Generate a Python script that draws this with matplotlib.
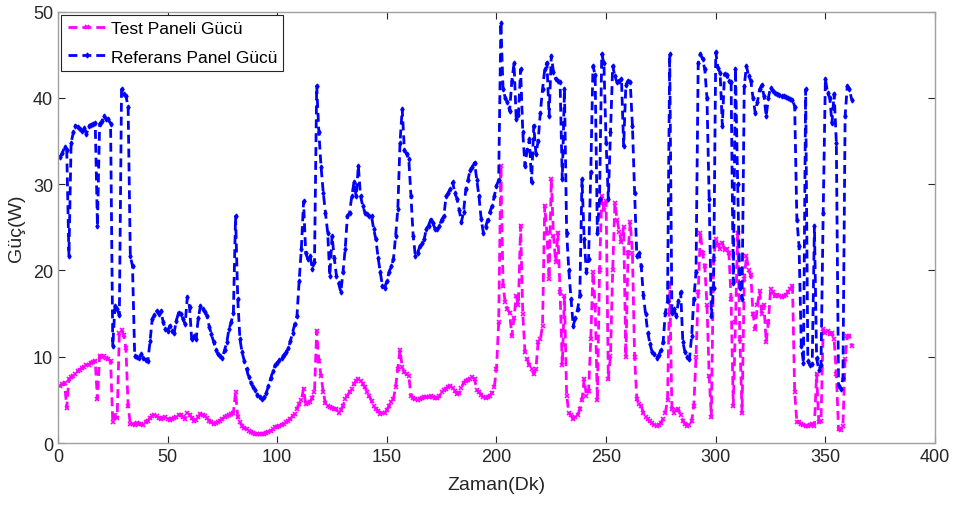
import numpy as np
import matplotlib
matplotlib.use("Agg")
import matplotlib.pyplot as plt

# zaman ekseni (dakika)
zaman = np.arange(1, 363)

# Referans panel gucu (W)
referans = [
    33.2, 33.6, 34.3, 34.0, 21.7, 34.8, 36.0, 36.8, 36.6, 36.4,
    36.2, 36.5, 35.8, 36.7, 36.9, 37.0, 37.1, 25.2, 37.0, 37.3,
    37.9, 37.6, 37.5, 37.0, 11.2, 15.9, 15.5, 14.8, 41.0, 40.5,
    40.2, 39.0, 21.7, 20.5, 10.1, 10.0, 9.8, 10.3, 9.9, 9.6,
    9.5, 11.8, 14.4, 14.8, 15.3, 15.0, 15.3, 14.0, 13.2, 13.0,
    13.6, 13.0, 12.8, 14.2, 15.1, 15.0, 14.4, 13.8, 16.9, 15.8,
    12.0, 12.4, 12.0, 14.5, 15.9, 15.5, 15.2, 14.7, 13.5, 12.6,
    11.7, 10.8, 10.3, 10.1, 9.9, 10.8, 11.7, 13.2, 14.0, 15.1,
    26.3, 16.7, 12.0, 10.5, 9.5, 8.6, 7.6, 7.0, 6.5, 6.1,
    5.6, 5.3, 5.1, 5.3, 5.8, 6.6, 7.5, 8.3, 9.0, 9.3,
    9.6, 9.9, 10.2, 10.5, 11.0, 11.8, 12.8, 13.8, 14.7, 18.8,
    22.5, 28.0, 22.0, 21.3, 21.7, 20.2, 21.0, 41.4, 36.0, 32.0,
    29.0, 26.7, 24.4, 19.4, 24.0, 21.5, 19.4, 18.5, 17.5, 19.8,
    22.5, 26.3, 26.7, 28.6, 30.2, 28.6, 32.1, 28.6, 27.5, 26.7,
    26.5, 26.3, 26.3, 24.8, 23.6, 21.5, 19.8, 18.2, 18.0, 18.8,
    19.8, 20.5, 21.3, 24.0, 27.1, 34.8, 38.7, 34.0, 33.5, 32.9,
    28.6, 24.0, 21.7, 22.0, 22.8, 23.2, 23.6, 24.8, 25.2, 25.9,
    25.5, 24.8, 24.8, 25.2, 25.9, 26.3, 28.6, 29.0, 29.5, 30.2,
    29.0, 28.3, 27.0, 25.6, 26.8, 29.4, 30.5, 31.7, 32.0, 32.5,
    30.5, 28.6, 26.0, 24.4, 25.0, 25.9, 26.8, 27.5, 28.6, 29.8,
    30.5, 48.7, 41.0, 40.0, 39.5, 38.5, 42.0, 44.0, 37.5, 38.0,
    43.3, 36.0, 32.1, 34.0, 35.2, 30.2, 36.8, 33.5, 35.0, 38.3,
    41.0, 43.3, 44.1, 37.9, 44.9, 43.0, 42.2, 42.0, 41.8, 30.6,
    41.0, 24.4, 20.0, 16.7, 13.6, 14.5, 15.5, 17.1, 30.6, 23.6,
    19.8, 21.3, 31.4, 43.7, 42.6, 24.4, 28.3, 45.1, 44.0, 34.8,
    28.3, 36.0, 43.7, 42.5, 41.8, 42.0, 42.2, 34.4, 41.5, 42.0,
    41.8, 36.8, 29.0, 21.7, 22.0, 20.5, 17.1, 15.0, 12.8, 11.5,
    10.5, 10.3, 9.9, 10.2, 10.8, 11.7, 15.1, 16.5, 45.1, 15.1,
    15.5, 14.7, 16.5, 17.5, 11.7, 10.5, 10.0, 9.7, 12.4, 16.7,
    19.8, 44.1, 45.1, 44.5, 43.3, 40.0, 28.3, 14.7, 18.0, 45.3,
    43.5, 42.9, 36.8, 42.8, 42.6, 42.0, 41.8, 18.6, 43.3, 30.0,
    18.0, 16.7, 41.4, 43.7, 42.5, 42.0, 40.0, 38.3, 39.5, 41.0,
    41.5, 40.2, 37.9, 40.0, 41.2, 40.8, 40.6, 40.4, 40.3, 40.2,
    40.2, 40.1, 40.0, 39.9, 39.8, 39.0, 25.9, 22.8, 11.3, 9.3,
    41.0, 9.5, 9.0, 9.2, 25.2, 9.8, 8.5, 9.0, 26.7, 42.2,
    40.6, 40.0, 37.1, 40.5, 34.8, 6.6, 6.3, 7.5, 37.9, 41.4,
    41.0, 39.8,
]

# Test paneli gucu (W)
test = [
    6.6, 6.8, 7.0, 4.1, 7.4, 7.6, 7.8, 8.0, 8.3, 8.5,
    8.7, 8.8, 9.0, 9.1, 9.3, 9.4, 9.5, 5.1, 10.1, 10.0,
    10.1, 9.9, 9.7, 9.5, 2.4, 3.2, 2.9, 12.8, 13.1, 12.5,
    11.0, 4.3, 2.2, 2.2, 2.1, 2.3, 2.2, 2.2, 2.1, 2.4,
    2.6, 2.9, 3.1, 3.2, 3.1, 2.9, 2.8, 2.9, 3.0, 2.8,
    2.7, 2.8, 2.9, 3.0, 3.2, 3.3, 3.0, 2.8, 3.5, 3.3,
    2.9, 2.6, 2.7, 3.0, 3.4, 3.2, 3.1, 2.9, 2.6, 2.4,
    2.2, 2.3, 2.4, 2.6, 2.8, 3.0, 3.1, 3.2, 3.4, 3.5,
    5.9, 3.0, 2.4, 2.0, 1.7, 1.6, 1.4, 1.3, 1.2, 1.1,
    1.0, 1.0, 1.0, 1.1, 1.2, 1.3, 1.4, 1.6, 1.8, 1.9,
    2.0, 2.1, 2.2, 2.4, 2.6, 2.8, 3.1, 3.4, 4.0, 4.5,
    5.0, 6.3, 4.5, 4.6, 4.8, 5.2, 5.9, 13.0, 9.5, 7.8,
    5.9, 4.6, 4.3, 4.2, 4.1, 4.0, 3.9, 3.5, 3.8, 4.3,
    5.1, 5.5, 5.9, 6.3, 6.8, 7.2, 7.4, 7.2, 6.8, 6.5,
    5.9, 5.4, 4.9, 4.3, 4.0, 3.7, 3.4, 3.5, 3.5, 3.8,
    4.3, 4.8, 5.1, 6.5, 8.6, 10.8, 8.8, 8.2, 8.0, 7.8,
    5.5, 5.2, 5.1, 5.0, 5.1, 5.2, 5.3, 5.3, 5.3, 5.4,
    5.3, 5.2, 5.2, 5.4, 5.9, 6.1, 6.3, 6.5, 6.6, 6.4,
    6.0, 5.7, 5.8, 6.4, 7.0, 7.2, 7.3, 7.4, 7.6, 7.4,
    6.2, 5.9, 5.6, 5.3, 5.2, 5.3, 5.5, 5.8, 6.5, 8.6,
    14.0, 32.1, 18.2, 16.3, 15.5, 15.1, 12.4, 14.5, 17.0, 16.0,
    25.2, 15.0, 10.5, 9.7, 9.0, 8.6, 8.0, 8.6, 11.7, 12.0,
    13.6, 27.5, 24.4, 19.0, 30.6, 24.0, 21.0, 24.4, 17.5, 9.0,
    17.0, 5.5, 3.5, 3.2, 2.8, 3.0, 3.2, 3.9, 5.0, 7.4,
    5.5, 6.0, 12.0, 19.8, 16.0, 5.0, 20.0, 28.6, 27.0, 28.0,
    7.4, 10.1, 20.0, 27.8, 25.9, 24.5, 23.3, 25.0, 10.0, 22.0,
    25.6, 22.0, 10.0, 5.1, 4.5, 4.3, 3.5, 3.0, 2.8, 2.5,
    2.3, 2.1, 2.0, 2.1, 2.3, 2.8, 3.5, 5.0, 18.6, 3.9,
    3.5, 3.8, 3.9, 3.2, 2.6, 2.2, 2.0, 2.1, 2.5, 4.3,
    10.0, 17.5, 24.4, 22.0, 20.5, 16.0, 7.8, 3.0, 21.3, 23.6,
    23.0, 22.5, 23.2, 22.4, 22.5, 22.0, 16.7, 4.3, 14.0, 24.4,
    12.0, 3.5, 19.0, 21.7, 20.0, 19.5, 15.0, 13.2, 16.0, 17.6,
    15.0, 16.0, 11.7, 14.0, 17.8, 17.5, 17.0, 17.2, 17.0, 16.9,
    17.0, 17.2, 17.5, 17.8, 18.2, 5.9, 2.4, 2.4, 2.2, 2.1,
    2.0, 2.0, 2.1, 2.2, 2.0, 8.0, 2.4, 2.5, 13.2, 12.8,
    13.0, 12.6, 12.8, 12.0, 8.0, 1.6, 1.5, 2.0, 9.7, 12.4,
    12.4, 11.3,
]

x_ticks = [0, 50, 100, 150, 200, 250, 300, 350, 400]
y_ticks = [0, 10, 20, 30, 40, 50]

fig = plt.figure(figsize=(9.58, 5.06), dpi=100)
ax = fig.add_axes([0.0605, 0.1225, 0.9155, 0.8525])

dash = (0, (3.2, 1.8))
ax.plot(zaman, test, color="#ff00ff", linestyle=dash, linewidth=2,
        marker="x", markersize=3, markeredgewidth=1.2, label="Test Paneli Gücü")
ax.plot(zaman, referans, color="#0000ff", linestyle=dash, linewidth=2,
        marker="d", markersize=2.5, label="Referans Panel Gücü")

ax.set_xlim(0, 400)
ax.set_ylim(0, 50)
ax.set_xticks(x_ticks)
ax.set_yticks(y_ticks)

for lab in ax.get_xticklabels() + ax.get_yticklabels():
    lab.set_family("Liberation Sans")
    lab.set_fontsize(13)
ax.tick_params(direction="in", top=True, right=True, length=5,
               color="#262626", labelcolor="#262626", width=0.8)
for s in ax.spines.values():
    s.set_color("#a0a0a0")
    s.set_linewidth(1)

ax.set_xlabel("Zaman(Dk)", family="Liberation Sans", fontsize=14,
              color="#262626", labelpad=8)
ax.set_ylabel("Güç(W)", family="Liberation Sans", fontsize=14,
              color="#262626", labelpad=6)

leg = ax.legend(loc="upper left", prop={"family": "Liberation Sans", "size": 12.5},
                handlelength=2.2, handletextpad=0.3, borderpad=0.35,
                labelspacing=0.75, fancybox=False, framealpha=1,
                borderaxespad=0.2)
leg.get_frame().set_edgecolor("#262626")
leg.get_frame().set_linewidth(0.8)

fig.savefig("out.png", dpi=100)
